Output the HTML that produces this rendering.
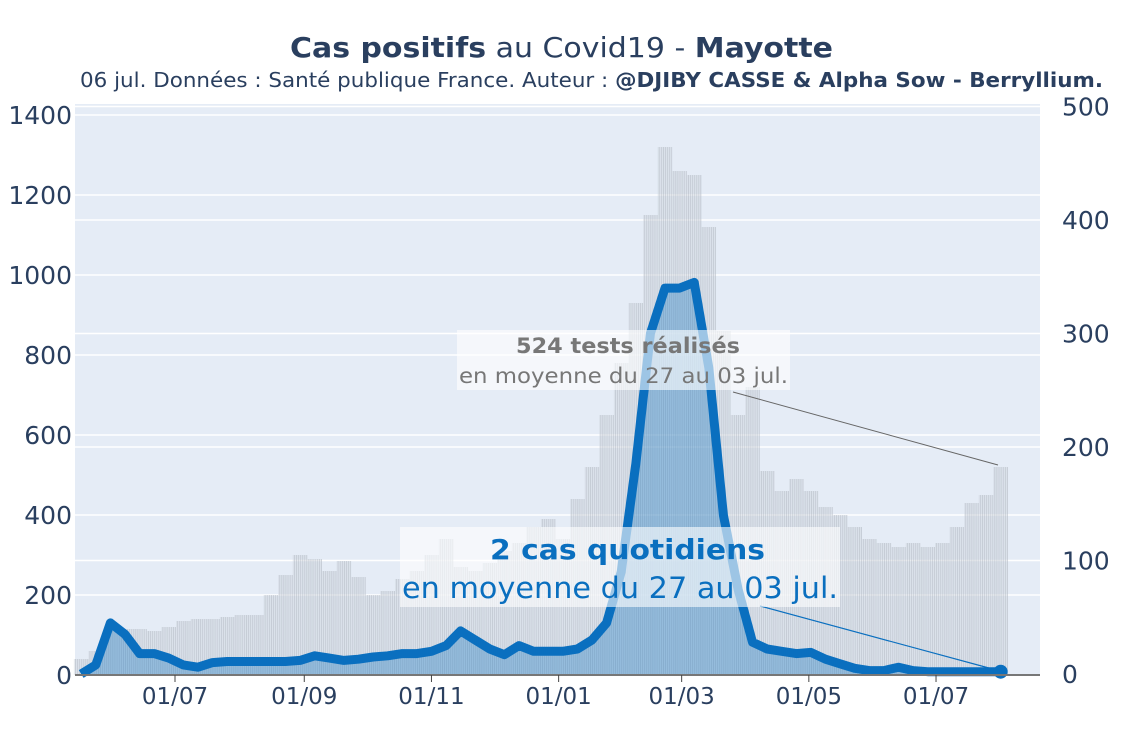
<!DOCTYPE html>
<html><head><meta charset="utf-8">
<style>
body{margin:0;background:#fff;}
svg{display:block;font-family:"DejaVu Sans","Liberation Sans",sans-serif;}
</style></head>
<body>
<svg id="chart" width="1125" height="750" xmlns="http://www.w3.org/2000/svg">
<defs>
<pattern id="stripes" width="2.085" height="10" patternUnits="userSpaceOnUse">
<rect width="2.085" height="10" fill="rgba(205,210,220,0.45)"/>
<rect width="0.6" height="10" fill="rgba(160,165,175,0.5)"/>
</pattern>
</defs>
<rect x="75" y="104" width="965" height="571" fill="#e5ecf6"/>
<g id="grid"></g>
<g id="bars"></g>
<g id="cases"></g>
<line x1="75" y1="675" x2="1040" y2="675" stroke="#777" stroke-width="2"/>
<g id="ticks"></g>
<text x="290" y="57" textLength="543" lengthAdjust="spacingAndGlyphs" font-size="28" fill="#2a3f5f"><tspan font-weight="bold">Cas positifs</tspan> au Covid19 - <tspan font-weight="bold">Mayotte</tspan></text>
<text x="80" y="87" textLength="1023" lengthAdjust="spacingAndGlyphs" font-size="20" fill="#2a3f5f">06 jul. Données : Santé publique France. Auteur : <tspan font-weight="bold">@DJIBY CASSE &amp; Alpha Sow - Berryllium.</tspan></text>
<line x1="733" y1="392" x2="998" y2="465" stroke="#666" stroke-width="1"/>
<rect x="457" y="330" width="333" height="60" fill="rgba(255,255,255,0.6)"/>
<text x="516" y="353" textLength="224" lengthAdjust="spacingAndGlyphs" font-size="21" font-weight="bold" fill="#777">524 tests réalisés</text>
<text x="459" y="383" textLength="329" lengthAdjust="spacingAndGlyphs" font-size="21" fill="#777">en moyenne du 27 au 03 jul.</text>
<line x1="760" y1="606" x2="1000" y2="671" stroke="#0a6fbf" stroke-width="1.2"/>
<rect x="400" y="527" width="440" height="80" fill="rgba(255,255,255,0.6)"/>
<text x="490" y="559" textLength="275" lengthAdjust="spacingAndGlyphs" font-size="28" font-weight="bold" fill="#0a6fbf">2 cas quotidiens</text>
<text x="402" y="598" textLength="436" lengthAdjust="spacingAndGlyphs" font-size="29" fill="#0a6fbf">en moyenne du 27 au 03 jul.</text>
</svg>
<script>
const weekStart = "2020-05-17";
const tests = [40,60,110,115,115,110,120,135,140,140,145,150,150,200,250,300,290,260,285,245,200,210,240,260,300,340,270,260,280,310,330,370,390,340,440,520,650,780,930,1150,1320,1260,1250,1120,860,650,720,510,460,490,460,420,400,370,340,330,320,330,320,330,370,430,450,520];
const cases = [0,8,45,35,18,18,14,8,6,10,11,11,11,11,11,12,16,14,12,13,15,16,18,18,20,25,38,30,22,17,25,20,20,20,22,30,45,90,185,300,340,340,345,270,140,75,28,22,20,18,19,13,9,5,3,3,6,3,2,2,2,2,2,2];
const leftTicks = [0,200,400,600,800,1000,1200,1400];
const rightTicks = [0,100,200,300,400,500];
const xTickLabels = ["01/07","01/09","01/11","01/01","01/03","01/05","01/07"];
const xTickDates = ["2020-07-01","2020-09-01","2020-11-01","2021-01-01","2021-03-01","2021-05-01","2021-07-01"];

const NS="http://www.w3.org/2000/svg";
const origin=Date.UTC(2020,6,1);
function dayOf(s){const p=s.split('-');return (Date.UTC(+p[0],+p[1]-1,+p[2])-origin)/86400000;}
function xScale(day){return 175+day*2.085;}
function yLeft(v){return 675-v*0.4;}
function yRight(v){return 674-v*1.135;}
function mk(tag,attrs,parent){const e=document.createElementNS(NS,tag);for(const k in attrs)e.setAttribute(k,attrs[k]);parent.appendChild(e);return e;}
const start=dayOf(weekStart);
const grid=document.getElementById('grid');
leftTicks.forEach(v=>{
  if(v>0){const l=mk('line',{x1:75,x2:1040,y1:yLeft(v),y2:yLeft(v),stroke:'#fff','stroke-width':1.5},grid);
  
  }
  const t=mk('text',{x:72,y:yLeft(v)+9,'text-anchor':'end','font-size':25,fill:'#2a3f5f'},grid);
  t.textContent=v;
  
  
});
rightTicks.forEach(v=>{
  if(v>0){const l=mk('line',{x1:75,x2:1040,y1:yRight(v),y2:yRight(v),stroke:'#fff','stroke-width':1.5},grid);
  
  }
  const t=mk('text',{x:1062,y:yRight(v)+9,'font-size':25,fill:'#2a3f5f'},grid);
  t.textContent=v;
  
  
});
const bars=document.getElementById('bars');
tests.forEach((v,i)=>{
  const x0=xScale(start+i*7-3.5);
  const r=mk('rect',{x:x0,y:yLeft(v),width:7*2.085,height:675-yLeft(v),fill:'url(#stripes)'},bars);
  
  
});
const cg=document.getElementById('cases');
let pts=cases.map((v,i)=>[xScale(start+i*7),yRight(v)]);
let d=pts.map((p,i)=>(i?'L':'M')+p[0].toFixed(1)+','+p[1].toFixed(1)).join(' ');
const area=mk('path',{d:d+' L'+pts[pts.length-1][0]+',675 L'+pts[0][0]+',675 Z',fill:'rgba(10,111,191,0.33)'},cg);


const line=mk('path',{d:d,fill:'none',stroke:'#0a6fbf','stroke-width':9,'stroke-linejoin':'round'},cg);


const last=pts[pts.length-1];
const dot=mk('circle',{cx:last[0],cy:last[1],r:7,fill:'#0a6fbf'},cg);


const tk=document.getElementById('ticks');
xTickDates.forEach((s,i)=>{
  const x=xScale(dayOf(s));
  const l=mk('line',{x1:x,x2:x,y1:675,y2:682,stroke:'#444','stroke-width':1},tk);
  
  
  const t=mk('text',{x:x,y:704,'text-anchor':'middle','font-size':23,fill:'#2a3f5f'},tk);
  t.textContent=xTickLabels[i];
  
  
});
</script>
</body></html>
